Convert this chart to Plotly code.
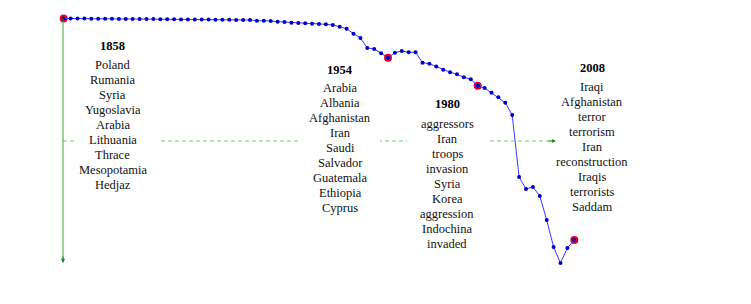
import plotly.graph_objects as go

# ---- data ----
years = list(range(1860, 2010, 2))
values = [
    1.000, 1.000, 0.9996, 0.9996, 0.9992, 0.9992, 0.9988, 0.9988, 0.9984, 0.9984,
    0.998, 0.998, 0.9975, 0.9975, 0.9971, 0.9967, 0.9967, 0.9963, 0.9963, 0.9959,
    0.9959, 0.9955, 0.9951, 0.9947, 0.9947, 0.9943,
    0.9939, 0.9939, 0.991, 0.991, 0.9898, 0.9869, 0.9857, 0.9828, 0.9816, 0.9804,
    0.9787, 0.9775, 0.9763, 0.9734, 0.9665, 0.9583, 0.9378, 0.9202, 0.8793, 0.8753,
    0.8577, 0.8397, 0.8601, 0.8671, 0.8618, 0.8618, 0.8192, 0.8151, 0.8037, 0.7906,
    0.78, 0.7718, 0.7595, 0.7513, 0.7252, 0.7157, 0.6965, 0.6777, 0.6556, 0.6053,
    0.3517, 0.3027, 0.3108, 0.274, 0.1759, 0.0654, 0.0, 0.0613, 0.0941,
]
highlight_years = [1860, 1954, 1980, 2008]

column_titles = ["1858", "1954", "1980", "2008"]
column_words = [
    ["Poland", "Rumania", "Syria", "Yugoslavia", "Arabia", "Lithuania", "Thrace", "Mesopotamia", "Hedjaz"],
    ["Arabia", "Albania", "Afghanistan", "Iran", "Saudi", "Salvador", "Guatemala", "Ethiopia", "Cyprus"],
    ["aggressors", "Iran", "troops", "invasion", "Syria", "Korea", "aggression", "Indochina", "invaded"],
    ["Iraqi", "Afghanistan", "terror", "terrorism", "Iran", "reconstruction", "Iraqis", "terrorists", "Saddam"],
]

# ---- layout geometry (pixels) ----
W, H = 751, 304
PX_PER_YEAR = 3.45
X_AT_1954 = 388
V_SCALE = 244.5
Y_AT_ONE = 18.5
xmin = 1954 - X_AT_1954 / PX_PER_YEAR
xmax = xmin + W / PX_PER_YEAR
ymax = 1 + Y_AT_ONE / V_SCALE
ymin = ymax - H / V_SCALE

col_cx = [113, 340, 447, 592]
col_title_y = [46, 70, 104, 68]
col_first_y = [65, 88, 124, 87]
col_box = [(75, 160), (300, 380), (407, 487), (553, 632)]
LINE_STEP = 15.05

def px(xp):
    return xp / W

def py(yp):
    return 1 - yp / H

fig = go.Figure()

hx = [y for y in years if y in highlight_years]
hy = [values[years.index(y)] for y in hx]
fig.add_trace(go.Scatter(x=hx, y=hy, mode="markers",
                         marker=dict(color="#e8001c", size=8), hoverinfo="skip"))
fig.add_trace(go.Scatter(x=years, y=values, mode="lines+markers",
                         line=dict(color="#3a3aff", width=1),
                         marker=dict(color="#0000c8", size=4), hoverinfo="skip"))

shapes = []
green_light = "rgba(40,160,40,0.5)"
# vertical axis-like arrow
shapes.append(dict(type="line", xref="paper", yref="paper",
                   x0=px(63), x1=px(63), y0=py(18), y1=py(260),
                   line=dict(color=green_light, width=1.8)))
# horizontal dashed arrow
shapes.append(dict(type="line", xref="paper", yref="paper",
                   x0=px(63), x1=px(551), y0=py(141), y1=py(141),
                   line=dict(color="rgba(60,180,60,0.7)", width=1, dash="4px,3px")))
# white boxes behind the word columns
for x0, x1 in col_box:
    shapes.append(dict(type="rect", xref="paper", yref="paper", layer="above",
                       x0=px(x0), x1=px(x1),
                       y0=py(136), y1=py(146), fillcolor="white", line=dict(width=0)))

annotations = []
font_family = "Liberation Serif"
for t, words, cx, ty, fy in zip(column_titles, column_words, col_cx, col_title_y, col_first_y):
    annotations.append(dict(xref="paper", yref="paper", x=px(cx), y=py(ty),
                            text="<b>" + t + "</b>", showarrow=False,
                            xanchor="center", yanchor="middle",
                            font=dict(family=font_family, size=12.5, color="#000")))
    for i, w in enumerate(words):
        annotations.append(dict(xref="paper", yref="paper", x=px(cx), y=py(fy + i * LINE_STEP),
                                text=w, showarrow=False, xanchor="center", yanchor="middle",
                                font=dict(family=font_family, size=12.5, color="#111")))

# arrowheads
annotations.append(dict(xref="paper", yref="paper", x=px(63), y=py(263), ax=0, ay=-8,
                        text="", showarrow=True, arrowhead=2, arrowsize=0.7,
                        arrowwidth=1.2, arrowcolor="#1a8f1a"))
annotations.append(dict(xref="paper", yref="paper", x=px(556), y=py(141), ax=-9, ay=0,
                        text="", showarrow=True, arrowhead=2, arrowsize=0.7,
                        arrowwidth=1.2, arrowcolor="#1a8f1a"))

fig.update_layout(
    width=W, height=H, margin=dict(l=0, r=0, t=0, b=0),
    paper_bgcolor="white", plot_bgcolor="white", showlegend=False,
    xaxis=dict(range=[xmin, xmax], visible=False, fixedrange=True),
    yaxis=dict(range=[ymin, ymax], visible=False, fixedrange=True),
    shapes=shapes, annotations=annotations,
)

fig.write_html("out.html")
